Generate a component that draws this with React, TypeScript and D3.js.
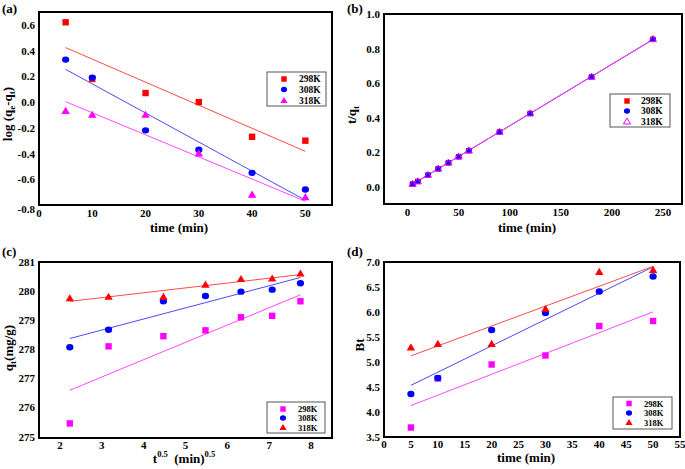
import React from "react";
import * as d3 from "d3";

// ---------- data ----------
const timeA = [5, 10, 20, 30, 40, 50];
const logA298 = [0.62, 0.18, 0.07, 0.0, -0.27, -0.3];
const logA308 = [0.33, 0.19, -0.22, -0.37, -0.55, -0.68];
const logA318 = [-0.07, -0.1, -0.1, -0.4, -0.72, -0.74];

const timeB = [5, 10, 20, 30, 40, 50, 60, 90, 120, 180, 240];
const tqB298 = [0.016, 0.031, 0.068, 0.104, 0.139, 0.174, 0.209, 0.317, 0.424, 0.636, 0.853];
const tqB308 = [0.016, 0.031, 0.068, 0.104, 0.139, 0.174, 0.209, 0.317, 0.424, 0.636, 0.854];
const tqB318 = [0.016, 0.031, 0.068, 0.105, 0.14, 0.175, 0.21, 0.318, 0.425, 0.637, 0.855];

const sqrtTimeC = [2.236, 3.162, 4.472, 5.477, 6.325, 7.071, 7.746];
const qtC298 = [275.45, 278.1, 278.45, 278.65, 279.1, 279.15, 279.65];
const qtC308 = [278.07, 278.67, 279.65, 279.83, 279.98, 280.05, 280.27];
const qtC318 = [279.75, 279.8, 279.8, 280.22, 280.41, 280.43, 280.6];

const timeD = [5, 10, 20, 30, 40, 50];
const btD298 = [3.69, 4.67, 4.95, 5.13, 5.72, 5.82];
const btD308 = [4.36, 4.68, 5.64, 5.98, 6.41, 6.71];
const btD318 = [5.29, 5.36, 5.36, 6.06, 6.8, 6.84];

const seriesNames = ["298K", "308K", "318K"];

const ticksAX = [0, 10, 20, 30, 40, 50];
const ticksAY = [-0.8, -0.6, -0.4, -0.2, 0.0, 0.2, 0.4, 0.6];
const ticksBX = [0, 50, 100, 150, 200, 250];
const ticksBY = [0.0, 0.2, 0.4, 0.6, 0.8, 1.0];
const ticksCX = [2, 3, 4, 5, 6, 7, 8];
const ticksCY = [275, 276, 277, 278, 279, 280, 281];
const ticksDX = [0, 5, 10, 15, 20, 25, 30, 35, 40, 45, 50, 55];
const ticksDY = [3.5, 4.0, 4.5, 5.0, 5.5, 6.0, 6.5, 7.0];

// ---------- styling ----------
const FONT = "'Liberation Serif', 'Times New Roman', serif";
const RED = "#ff0000";
const BLUE = "#0000ff";
const MAG = "#ff00ff";
const RED_L = "#ff4a4a";
const BLUE_L = "#4a4aff";
const MAG_L = "#ff4aff";

type Marker = "square" | "circle" | "triangle" | "triangleOpen";
type Series = { name: string; xs: number[]; ys: number[]; color: string; line: string; marker: Marker };

function fit(xs: number[], ys: number[]) {
  const mx = d3.mean(xs)!;
  const my = d3.mean(ys)!;
  let sxy = 0, sxx = 0;
  xs.forEach((x, i) => {
    sxy += (x - mx) * (ys[i] - my);
    sxx += (x - mx) * (x - mx);
  });
  const b = sxy / sxx;
  return (x: number) => my + b * (x - mx);
}

function MarkerShape({ type, x, y, color, s = 1 }: { type: Marker; x: number; y: number; color: string; s?: number }) {
  if (type === "square") {
    const h = 3.2 * s;
    return <rect x={x - h} y={y - h} width={2 * h} height={2 * h} fill={color} />;
  }
  if (type === "circle") {
    return <ellipse cx={x} cy={y} rx={3.6 * s} ry={3.2 * s} fill={color} />;
  }
  const r = 4.2 * s;
  const p = `M${x},${y - r} L${x + r},${y + r * 0.7} L${x - r},${y + r * 0.7} Z`;
  if (type === "triangleOpen") {
    return <path d={p} fill="none" stroke={color} strokeWidth={1} />;
  }
  return <path d={p} fill={color} />;
}

type PanelProps = {
  box: [number, number, number, number];
  xDomain: [number, number];
  yDomain: [number, number];
  xTicks: number[];
  yTicks: number[];
  xFmt: (v: number) => string;
  yFmt: (v: number) => string;
  series: Series[];
  legend: { x: number; y: number; w: number; h: number; rows: number[]; fs: number; mx: number; tx: number };
  letter: { text: string; x: number; y: number };
  xTitle: React.ReactNode;
  xTitlePos: [number, number];
  yTitle: React.ReactNode;
  yTitlePos: [number, number];
  xLabelDy: number;
  bottomYLabelShift?: number;
  markerScale?: number;
};

function Panel(p: PanelProps) {
  const [x0, y0, x1, y1] = p.box;
  const xs = d3.scaleLinear().domain(p.xDomain).range([x0, x1]);
  const ys = d3.scaleLinear().domain(p.yDomain).range([y1, y0]);
  return (
    <g fontFamily={FONT} fontWeight="bold">
      {/* fit lines */}
      {p.series.map((s) => {
        const f = fit(s.xs, s.ys);
        const xa = d3.min(s.xs)!;
        const xb = d3.max(s.xs)!;
        const line = d3.line<number>().x((d) => xs(d)).y((d) => ys(f(d)));
        return <path key={"l" + s.name} d={line([xa, xb])!} stroke={s.line} strokeWidth={1} fill="none" />;
      })}
      {/* markers */}
      {p.series.map((s) => (
        <g key={"m" + s.name}>
          {s.xs.map((x, i) => (
            <MarkerShape key={i} type={s.marker} x={xs(x)} y={ys(s.ys[i])} color={s.color} s={p.markerScale ?? 1} />
          ))}
        </g>
      ))}
      {/* frame */}
      <rect x={x0} y={y0} width={x1 - x0} height={y1 - y0} fill="none" stroke="#000" strokeWidth={2} />
      {/* ticks */}
      {p.xTicks.map((t) => (
        <text key={"x" + t} x={xs(t)} y={y1 + p.xLabelDy} fontSize={11} textAnchor="middle">
          {p.xFmt(t)}
        </text>
      ))}
      {p.yTicks.map((t, i) => (
        <text
          key={"y" + t}
          x={x0 - 4}
          y={ys(t) + 4 + (i === 0 ? p.bottomYLabelShift ?? 0 : 0)}
          fontSize={11}
          textAnchor="end"
        >
          {p.yFmt(t)}
        </text>
      ))}
      {/* legend */}
      <rect x={p.legend.x} y={p.legend.y} width={p.legend.w} height={p.legend.h} fill="#fff" stroke="#555" strokeWidth={1} />
      {p.series.map((s, i) => (
        <g key={"lg" + s.name}>
          <MarkerShape type={s.marker} x={p.legend.x + p.legend.mx} y={p.legend.y + p.legend.rows[i]} color={s.color} s={0.85} />
          <text x={p.legend.x + p.legend.tx} y={p.legend.y + p.legend.rows[i] + 3.2} fontSize={p.legend.fs}>
            {s.name}
          </text>
        </g>
      ))}
      {/* titles */}
      <text x={p.letter.x} y={p.letter.y} fontSize={13}>
        {p.letter.text}
      </text>
      <text x={p.xTitlePos[0]} y={p.xTitlePos[1]} fontSize={13} textAnchor="middle">
        {p.xTitle}
      </text>
      <text
        transform={`translate(${p.yTitlePos[0]},${p.yTitlePos[1]}) rotate(-90)`}
        fontSize={13}
        textAnchor="middle"
      >
        {p.yTitle}
      </text>
    </g>
  );
}

const f1 = (v: number) => v.toFixed(1);
const f0 = (v: number) => String(v);

export default function App() {
  const sA: Series[] = [
    { name: seriesNames[0], xs: timeA, ys: logA298, color: RED, line: RED_L, marker: "square" },
    { name: seriesNames[1], xs: timeA, ys: logA308, color: BLUE, line: BLUE_L, marker: "circle" },
    { name: seriesNames[2], xs: timeA, ys: logA318, color: MAG, line: MAG_L, marker: "triangle" },
  ];
  const sB: Series[] = [
    { name: seriesNames[0], xs: timeB, ys: tqB298, color: RED, line: RED_L, marker: "square" },
    { name: seriesNames[1], xs: timeB, ys: tqB308, color: BLUE, line: BLUE_L, marker: "circle" },
    { name: seriesNames[2], xs: timeB, ys: tqB318, color: MAG, line: MAG_L, marker: "triangleOpen" },
  ];
  const sC: Series[] = [
    { name: seriesNames[0], xs: sqrtTimeC, ys: qtC298, color: MAG, line: MAG_L, marker: "square" },
    { name: seriesNames[1], xs: sqrtTimeC, ys: qtC308, color: BLUE, line: BLUE_L, marker: "circle" },
    { name: seriesNames[2], xs: sqrtTimeC, ys: qtC318, color: RED, line: RED_L, marker: "triangle" },
  ];
  const sD: Series[] = [
    { name: seriesNames[0], xs: timeD, ys: btD298, color: MAG, line: MAG_L, marker: "square" },
    { name: seriesNames[1], xs: timeD, ys: btD308, color: BLUE, line: BLUE_L, marker: "circle" },
    { name: seriesNames[2], xs: timeD, ys: btD318, color: RED, line: RED_L, marker: "triangle" },
  ];

  return (
    <svg
      width={685}
      height={469}
      viewBox="0 0 685 469"
      style={{ position: "absolute", left: 0, top: 0, background: "#fff" }}
    >
      <rect x={0} y={0} width={685} height={469} fill="#fff" />
      <Panel
        box={[39, 12, 332, 205]}
        xDomain={[0, 55]}
        yDomain={[-0.8, 0.7]}
        xTicks={ticksAX}
        yTicks={ticksAY}
        xFmt={f0}
        yFmt={f1}
        series={sA}
        legend={{ x: 267, y: 72, w: 59, h: 34, rows: [7, 17.5, 28.5], fs: 9.5, mx: 17, tx: 32 }}
        letter={{ text: "(a)", x: 2, y: 13 }}
        xTitle="time (min)"
        xTitlePos={[179, 232]}
        yTitle={
          <>
            log (q<tspan fontSize={9} dy={3}>e</tspan>
            <tspan dy={-3}>-q</tspan>
            <tspan fontSize={9} dy={3}>t</tspan>
            <tspan dy={-3}>)</tspan>
          </>
        }
        yTitlePos={[12, 114]}
        xLabelDy={11.5}
        bottomYLabelShift={4}
      />
      <Panel
        box={[384, 14, 682, 204]}
        xDomain={[-23, 268.5]}
        yDomain={[-0.1, 1.0]}
        xTicks={ticksBX}
        yTicks={ticksBY}
        xFmt={f0}
        yFmt={f1}
        series={sB}
        legend={{ x: 610, y: 94, w: 60, h: 33, rows: [7, 17, 27.5], fs: 9.5, mx: 17, tx: 31 }}
        letter={{ text: "(b)", x: 347, y: 13 }}
        xTitle="time (min)"
        xTitlePos={[527, 232]}
        yTitle={
          <>
            t/q<tspan fontSize={9} dy={3}>t</tspan>
          </>
        }
        yTitlePos={[356, 115]}
        xLabelDy={12}
        markerScale={0.85}
      />
      <Panel
        box={[39, 262, 332, 438]}
        xDomain={[1.5, 8.5]}
        yDomain={[274.95, 281]}
        xTicks={ticksCX}
        yTicks={ticksCY}
        xFmt={f0}
        yFmt={f0}
        series={sC}
        legend={{ x: 267, y: 402, w: 58, h: 31, rows: [7, 16, 25.5], fs: 8.5, mx: 16, tx: 31 }}
        letter={{ text: "(c)", x: 2, y: 256 }}
        xTitle={
          <>
            t<tspan fontSize={8.5} dy={-6}>0.5</tspan>
            <tspan dy={6}>{"\u00a0 (min)"}</tspan>
            <tspan fontSize={8.5} dy={-6}>0.5</tspan>
          </>
        }
        xTitlePos={[184, 463]}
        yTitle={
          <>
            q<tspan fontSize={9} dy={3}>t</tspan>
            <tspan dy={-3}>(mg/g)</tspan>
          </>
        }
        yTitlePos={[13, 348]}
        xLabelDy={10.5}
      />
      <Panel
        box={[384, 262, 680, 437]}
        xDomain={[0, 55]}
        yDomain={[3.5, 7.0]}
        xTicks={ticksDX}
        yTicks={ticksDY}
        xFmt={f0}
        yFmt={f1}
        series={sD}
        legend={{ x: 613, y: 397, w: 59, h: 32, rows: [6.5, 16, 25.5], fs: 8.5, mx: 16, tx: 31 }}
        letter={{ text: "(d)", x: 347, y: 256 }}
        xTitle="time (min)"
        xTitlePos={[526, 462]}
        yTitle="Bt"
        yTitlePos={[364, 345]}
        xLabelDy={10.5}
      />
    </svg>
  );
}
